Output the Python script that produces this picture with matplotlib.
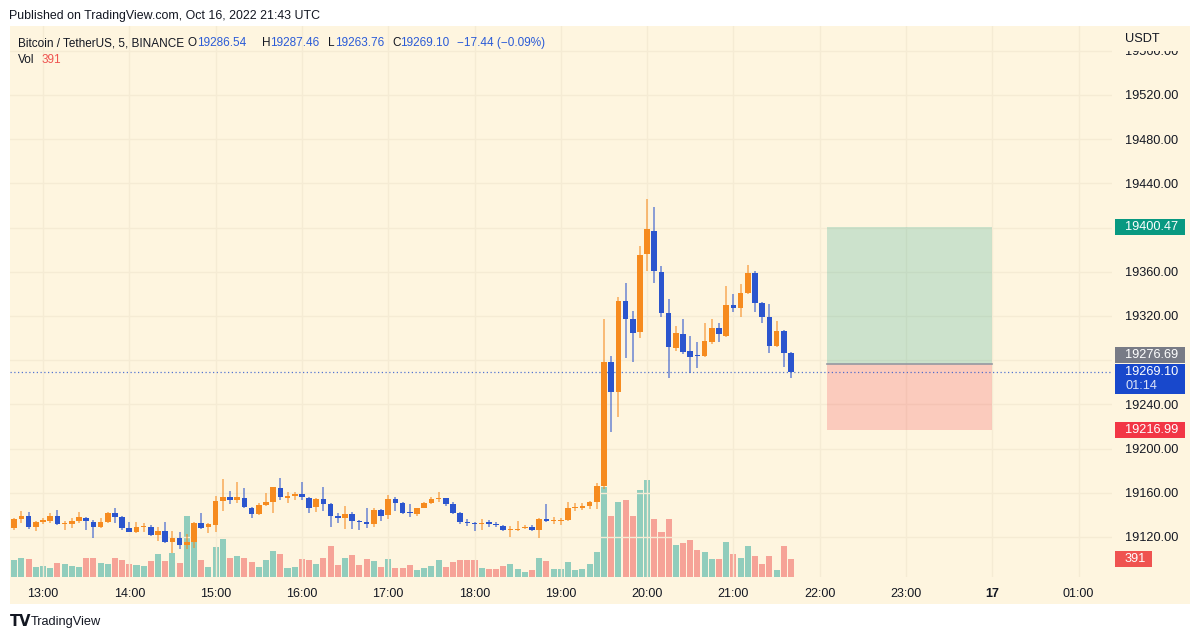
import matplotlib
matplotlib.use("Agg")
import matplotlib.pyplot as plt
from matplotlib.patches import Rectangle
from matplotlib.colors import to_rgba
import numpy as np
import pandas as pd

plt.rcParams['font.family'] = ['Liberation Sans', 'DejaVu Sans']

# 5 minute BTC/USDT candles
first_bar = "2022-10-16 12:40"
opens = [19127.8, 19135.9, 19139.0, 19129.3, 19133.8, 19134.4, 19139.3, 19131.7, 19131.7, 19134.7,
         19137.5, 19133.2, 19128.7, 19133.2, 19142.0, 19138.4, 19127.8, 19124.8, 19128.7, 19129.3,
         19121.8, 19125.4, 19115.1, 19119.4, 19112.7, 19115.1, 19132.9, 19128.7, 19130.8, 19152.8,
         19156.5, 19153.4, 19155.6, 19145.9, 19140.8, 19148.9, 19151.9, 19164.0, 19155.6, 19157.1,
         19158.6, 19155.6, 19146.8, 19154.0, 19149.5, 19139.3, 19136.9, 19140.5, 19134.7, 19133.8,
         19131.7, 19144.4, 19139.9, 19154.4, 19151.0, 19142.0, 19140.8, 19146.5, 19150.4, 19154.0,
         19155.0, 19149.8, 19141.4, 19133.8, 19132.3, 19131.7, 19133.8, 19131.7, 19130.2, 19126.3,
         19126.3, 19127.8, 19128.7, 19126.3, 19136.2, 19134.4, 19134.7, 19135.3, 19145.9, 19146.5,
         19148.0, 19151.3, 19166.4, 19278.6, 19250.9, 19333.5, 19316.9, 19305.8, 19375.8, 19397.2,
         19360.1, 19322.4, 19291.3, 19303.7, 19288.6, 19284.7, 19283.8, 19296.7, 19308.8, 19302.2,
         19329.9, 19327.5, 19341.1, 19358.6, 19331.4, 19319.4, 19292.8, 19306.4, 19286.54]
highs = [19136.9, 19143.8, 19142.3, 19134.7, 19137.5, 19141.4, 19144.4, 19134.7, 19136.9, 19142.3,
         19138.4, 19135.3, 19136.9, 19142.3, 19145.9, 19139.0, 19133.8, 19133.2, 19132.9, 19130.8,
         19128.7, 19133.2, 19125.7, 19124.8, 19122.7, 19133.8, 19141.4, 19132.3, 19157.1, 19172.2,
         19161.9, 19170.0, 19164.0, 19147.4, 19150.4, 19160.1, 19165.5, 19173.1, 19161.0, 19160.4,
         19169.4, 19156.5, 19155.0, 19165.5, 19150.4, 19142.0, 19148.0, 19142.3, 19135.3, 19145.9,
         19145.9, 19145.0, 19158.0, 19156.5, 19151.3, 19149.8, 19146.5, 19151.3, 19156.5, 19161.0,
         19155.6, 19151.3, 19142.9, 19135.9, 19133.8, 19135.9, 19135.3, 19133.2, 19130.8, 19129.9,
         19134.4, 19130.8, 19130.8, 19136.9, 19149.8, 19137.8, 19136.9, 19151.3, 19150.4, 19150.4,
         19152.8, 19168.5, 19317.2, 19283.8, 19336.9, 19350.1, 19324.8, 19383.3, 19425.9, 19418.3,
         19365.2, 19335.0, 19310.9, 19316.9, 19302.2, 19296.7, 19313.9, 19316.9, 19313.3, 19347.1,
         19339.9, 19348.6, 19366.1, 19360.7, 19332.9, 19330.5, 19315.4, 19307.3, 19287.46]
lows = [19126.3, 19132.9, 19126.9, 19125.4, 19131.4, 19132.9, 19130.8, 19126.3, 19128.4, 19132.9,
        19126.3, 19118.8, 19127.8, 19132.9, 19132.9, 19126.3, 19124.2, 19123.3, 19124.8, 19120.9,
        19116.3, 19114.8, 19105.2, 19108.8, 19109.1, 19109.7, 19127.2, 19123.3, 19124.8, 19143.8,
        19149.5, 19150.4, 19145.9, 19136.9, 19139.9, 19148.3, 19142.0, 19153.4, 19150.4, 19153.4,
        19153.4, 19141.4, 19142.9, 19143.8, 19128.7, 19132.3, 19126.9, 19126.9, 19126.3, 19127.8,
        19128.7, 19134.7, 19135.9, 19143.8, 19140.5, 19137.8, 19139.3, 19145.9, 19149.8, 19151.9,
        19148.0, 19140.8, 19131.4, 19129.9, 19125.7, 19126.3, 19128.7, 19128.7, 19125.4, 19120.3,
        19125.7, 19126.9, 19125.4, 19118.8, 19133.2, 19131.4, 19130.8, 19134.7, 19143.8, 19144.4,
        19145.0, 19145.3, 19163.0, 19214.7, 19228.8, 19281.6, 19278.0, 19299.7, 19360.7, 19350.1,
        19319.4, 19263.5, 19288.3, 19285.6, 19268.7, 19273.2, 19283.2, 19294.6, 19296.7, 19301.3,
        19323.9, 19318.7, 19339.9, 19323.9, 19313.9, 19286.2, 19292.2, 19274.1, 19263.76]
closes = [19135.9, 19139.0, 19128.7, 19133.8, 19135.3, 19139.3, 19131.7, 19132.9, 19134.7, 19137.8,
          19134.7, 19128.7, 19133.2, 19142.0, 19138.4, 19127.8, 19124.8, 19129.3, 19129.9, 19121.8,
          19125.7, 19115.1, 19119.4, 19112.7, 19115.7, 19132.9, 19128.4, 19131.4, 19152.8, 19156.5,
          19153.4, 19156.5, 19146.8, 19140.8, 19148.9, 19151.9, 19164.9, 19155.9, 19157.1, 19158.9,
          19155.9, 19145.9, 19154.0, 19149.5, 19139.3, 19137.5, 19140.8, 19134.4, 19133.8, 19131.7,
          19144.4, 19139.3, 19154.4, 19151.0, 19141.4, 19141.4, 19145.9, 19150.4, 19154.4, 19155.0,
          19149.5, 19141.4, 19133.2, 19132.3, 19131.7, 19132.9, 19131.7, 19131.1, 19126.3, 19126.9,
          19126.9, 19129.3, 19126.3, 19136.2, 19134.4, 19135.3, 19135.3, 19146.5, 19146.5, 19148.0,
          19151.3, 19166.4, 19278.6, 19250.9, 19333.5, 19316.9, 19304.3, 19375.2, 19398.7, 19361.0,
          19322.4, 19292.2, 19304.3, 19287.7, 19283.2, 19283.8, 19297.3, 19308.8, 19303.4, 19329.9,
          19327.5, 19341.1, 19358.6, 19331.4, 19319.4, 19292.8, 19306.4, 19286.2, 19269.10]
volumes = [376, 413, 391, 217, 246, 203, 304, 290, 232, 217,
           413, 413, 304, 275, 413, 362, 290, 268, 232, 340,
           507, 355, 521, 297, 1318, 753, 376, 217, 652, 833,
           405, 449, 413, 326, 217, 376, 557, 507, 195, 224,
           391, 372, 275, 405, 681, 253, 420, 485, 268, 391,
           348, 217, 384, 203, 203, 261, 152, 203, 232, 369,
           210, 319, 362, 362, 369, 203, 174, 167, 239, 275,
           174, 116, 152, 420, 340, 167, 174, 319, 159, 181,
           290, 550, 1950, 1318, 1636, 1680, 1332, 1882, 2107, 1253,
           985, 1267, 702, 738, 804, 594, 543, 398, 398, 760,
           492, 413, 681, 449, 290, 463, 159, 681, 391]

time_ticks = [13, 14, 15, 16, 17, 18, 19, 20, 21, 22, 23, 24, 25]
time_labels = ["13:00", "14:00", "15:00", "16:00", "17:00", "18:00", "19:00",
               "20:00", "21:00", "22:00", "23:00", "17", "01:00"]
price_ticks = [19120, 19160, 19200, 19240, 19280, 19320, 19360, 19400, 19440, 19480, 19520, 19560]

last_price = 19269.10
last_volume = 391
countdown = "01:14"
tp_price = 19400.47
entry_price = 19276.69
stop_price = 19216.99
position_start = "2022-10-16 22:05"
position_end = "2022-10-17 00:00"

cream = '#FEF5DF'
grid_col = '#F5EBD4'
up_col = '#F68B1F'
down_col = '#2B55CE'
txt_col = '#131722'

W, H = 1200, 639


def fx(px):
    return px / W


def fy(py):
    return 1 - py / H


day = pd.Timestamp("2022-10-16")
times = pd.date_range(first_bar, periods=len(opens), freq="5min")
hrs = ((times - day) / pd.Timedelta(hours=1)).to_numpy()

o = np.array(opens)
h = np.array(highs)
l = np.array(lows)
c = np.array(closes)
rising = c >= o

fig = plt.figure(figsize=(12, 6.39), dpi=100)
fig.patches.append(Rectangle((fx(10), fy(604)), fx(1180), 578 / H, transform=fig.transFigure,
                             fc=cream, ec='none', zorder=-5))

ax = fig.add_axes([fx(10), fy(577), fx(1102), 551 / H])
axv = ax.twinx()
axv.set_zorder(0)
ax.set_zorder(1)
ax.patch.set_visible(False)
axv.patch.set_visible(False)

# volume overlay
vcol = [to_rgba('#26A69A', 0.5) if r else to_rgba('#EF5350', 0.5) for r in rising]
axv.bar(hrs, volumes, width=0.84 / 12, color=vcol, lw=0)
axv.set_ylim(0, 11957)
axv.set_yticks([])

# candles
ccol = [up_col if r else down_col for r in rising]
ax.vlines(hrs, l, h, colors=ccol, lw=1.1, alpha=0.7, zorder=3)
ax.bar(hrs, np.maximum(np.abs(c - o), 1.0), bottom=np.minimum(o, c), width=0.78 / 12,
       color=ccol, lw=0, zorder=4)

ax.axhline(last_price, color=down_col, lw=0.9, ls=(0, (1, 2)), alpha=0.8, zorder=2)

# long position tool
xs = (pd.Timestamp(position_start) - day) / pd.Timedelta(hours=1)
xe = (pd.Timestamp(position_end) - day) / pd.Timedelta(hours=1)
ax.add_patch(Rectangle((xs, entry_price), xe - xs, tp_price - entry_price,
                       fc=to_rgba('#089981', 0.2), ec='none', zorder=1))
ax.add_patch(Rectangle((xs, stop_price), xe - xs, entry_price - stop_price,
                       fc=to_rgba('#F23645', 0.22), ec='none', zorder=1))
ax.plot([xs, xe], [entry_price, entry_price], color='#9598A1', lw=1.2, zorder=2)

ax.set_xlim(12.6176, 25.387)
ax.set_ylim(19083.8, 19582.4)

ax.set_xticks(time_ticks)
ax.set_xticklabels(time_labels)
ax.get_xticklabels()[time_labels.index("17")].set_fontweight('bold')
ax.yaxis.tick_right()
ax.set_yticks(price_ticks)
ax.set_yticklabels(["" if v == 19280 else f"{v:.2f}" for v in price_ticks])
ax.tick_params(axis='x', length=0, pad=8, labelsize=9, labelcolor=txt_col)
ax.tick_params(axis='y', length=0, pad=9.5, labelsize=9.2, labelcolor=txt_col)
ax.grid(True, color=grid_col, lw=1)
ax.set_axisbelow(True)
for a in (ax, axv):
    for s in a.spines.values():
        s.set_visible(False)

# hide the upper half of the topmost price label, as the scale title does
fig.patches.append(Rectangle((fx(1113), fy(50.5)), fx(77), 24.5 / H, transform=fig.transFigure,
                             fc=cream, ec='none', zorder=5))
fig.text(fx(1125), fy(39), "USDT", fontsize=9.2, color=txt_col, va='center', zorder=6)

fig.canvas.draw()


def price_box(price, label, color, dy=0.0, hgt=16.5, x1=1185, extra=None):
    yc = H - ax.transData.transform((0, price))[1] + dy
    top = yc - 8.3
    fig.patches.append(Rectangle((fx(1115), fy(top + hgt)), fx(x1 - 1115), hgt / H,
                                 transform=fig.transFigure, fc=color, ec='none', zorder=5))
    fig.text(fx(1125), fy(yc), label, fontsize=9.2, color='white', va='center', zorder=6)
    if extra:
        fig.text(fx(1125), fy(yc + 13.5), extra, fontsize=9.2, color='#DDE4F7', va='center', zorder=6)


price_box(tp_price, f"{tp_price:.2f}", '#089981')
price_box(entry_price, f"{entry_price:.2f}", '#787B86', dy=-8.8)
price_box(last_price, f"{last_price:.2f}", '#1848CC', hgt=30, extra=countdown)
price_box(stop_price, f"{stop_price:.2f}", '#F23645')
yv = H - axv.transData.transform((0, last_volume))[1]
fig.patches.append(Rectangle((fx(1115), fy(yv + 8.3)), fx(37), 16.5 / H, transform=fig.transFigure,
                             fc='#EF5350', ec='none', zorder=5))
fig.text(fx(1125), fy(yv), str(last_volume), fontsize=9.2, color='white', va='center', zorder=6)

# header, legend and footer
fig.text(fx(9), fy(16), "Published on TradingView.com, Oct 16, 2022 21:43 UTC",
         fontsize=8.9, color=txt_col, va='center')
legend_y = fy(43)
fig.text(fx(17.6), legend_y, "Bitcoin / TetherUS, 5, BINANCE", fontsize=8.5, color=txt_col, va='center')
val_col = '#2A5BD7'
for xl, letter, xv, val in [(187.5, "O", 196.7, opens[-1]), (262, "H", 270.5, highs[-1]),
                            (328, "L", 334.6, lows[-1]), (392, "C", 400.5, closes[-1])]:
    fig.text(fx(xl), legend_y, letter, fontsize=8.5, color=txt_col, va='center')
    fig.text(fx(xv), legend_y, f"{val:.2f}", fontsize=8.5, color=val_col, va='center')
chg = closes[-1] - opens[-1]
fig.text(fx(456.6), legend_y, f"\u2212{abs(chg):.2f} (\u2212{abs(chg) / opens[-1] * 100:.2f}%)",
         fontsize=8.5, color=val_col, va='center')
fig.text(fx(17.6), fy(60), "Vol", fontsize=8.5, color=txt_col, va='center')
fig.text(fx(41.3), fy(60), str(last_volume), fontsize=8.5, color='#EF5350', va='center')

fig.text(fx(10), fy(622), "TV", fontsize=10.5, fontweight='heavy', color=txt_col, va='center',
         family=['Liberation Sans Narrow', 'DejaVu Sans'])
fig.text(fx(31), fy(622), "TradingView", fontsize=9.2, color=txt_col, va='center')

fig.savefig("out.png", dpi=100, facecolor='white')
